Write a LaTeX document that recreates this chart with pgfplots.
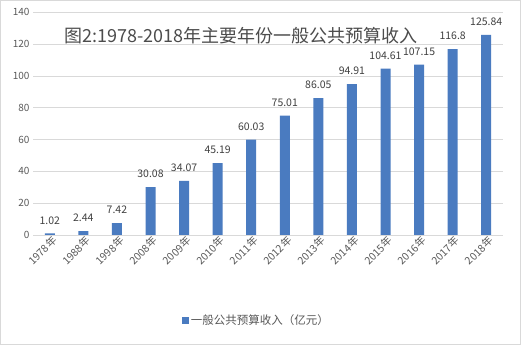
\documentclass[border=0pt]{standalone}
\usepackage{fontspec}
\setmainfont{Noto Sans CJK SC}
\usepackage{pgfplots}
\pgfplotsset{compat=1.18}
\definecolor{barblue}{HTML}{4A7BC0}
\definecolor{gridgray}{HTML}{D9D9D9}
\definecolor{txtgray}{HTML}{595959}
\begin{document}
\begin{tikzpicture}
\draw[gridgray, line width=1bp, use as bounding box] (0.5bp,0.5bp) rectangle (520.5bp,344.5bp);
\begin{axis}[
  at={(33bp,110bp)}, anchor=south west,
  scale only axis, width=470bp, height=222.7bp,
  xmin=-0.5, xmax=13.5, ymin=0, ymax=140,
  ytick={0,20,...,140},
  xtick={0,...,13},
  xticklabels={1978年,1988年,1998年,2008年,2009年,2010年,2011年,2012年,2013年,2014年,2015年,2016年,2017年,2018年},
  x tick label style={rotate=45, anchor=east, font=\fontsize{10.5bp}{11bp}\selectfont, text=txtgray, inner sep=1bp, yshift=-6bp, xshift=2bp},
  y tick label style={font=\fontsize{10bp}{11bp}\selectfont, text=txtgray},
  /pgf/number format/assume math mode=true,
  major tick length=0pt,
  ymajorgrids, grid style={gridgray, line width=0.8bp},
  axis line style={draw=none},
  axis x line*=bottom, axis y line*=left,
  ybar, bar width=10bp,
  nodes near coords,
  nodes near coords style={font=\fontsize{10.5bp}{11bp}\selectfont, text=black!75, inner sep=2bp, yshift=7bp},
  legend style={at={(axis description cs:0.475,-0.385)}, anchor=center, draw=none, font=\fontsize{11.5bp}{12bp}\selectfont, text=txtgray},
  legend image code/.code={\fill[barblue] (0bp,-3.5bp) rectangle (7bp,3.5bp);},
  clip=false,
]
\addplot[fill=barblue, draw=none] coordinates {
(0,1.02) (1,2.44) (2,7.42) (3,30.08) (4,34.07) (5,45.19) (6,60.03) (7,75.01) (8,86.05) (9,94.91) (10,104.61) (11,107.15) (12,116.8) (13,125.84)};
\addlegendentry{一般公共预算收入（亿元）}
\draw[gridgray, line width=0.8bp] (axis cs:-0.5,0) -- (axis cs:13.5,0);
\node[font=\fontsize{18bp}{19bp}\selectfont, text=black!70] at (axis description cs:0.443,0.895) {图2:1978-2018年主要年份一般公共预算收入};
\end{axis}
\end{tikzpicture}
\end{document}
